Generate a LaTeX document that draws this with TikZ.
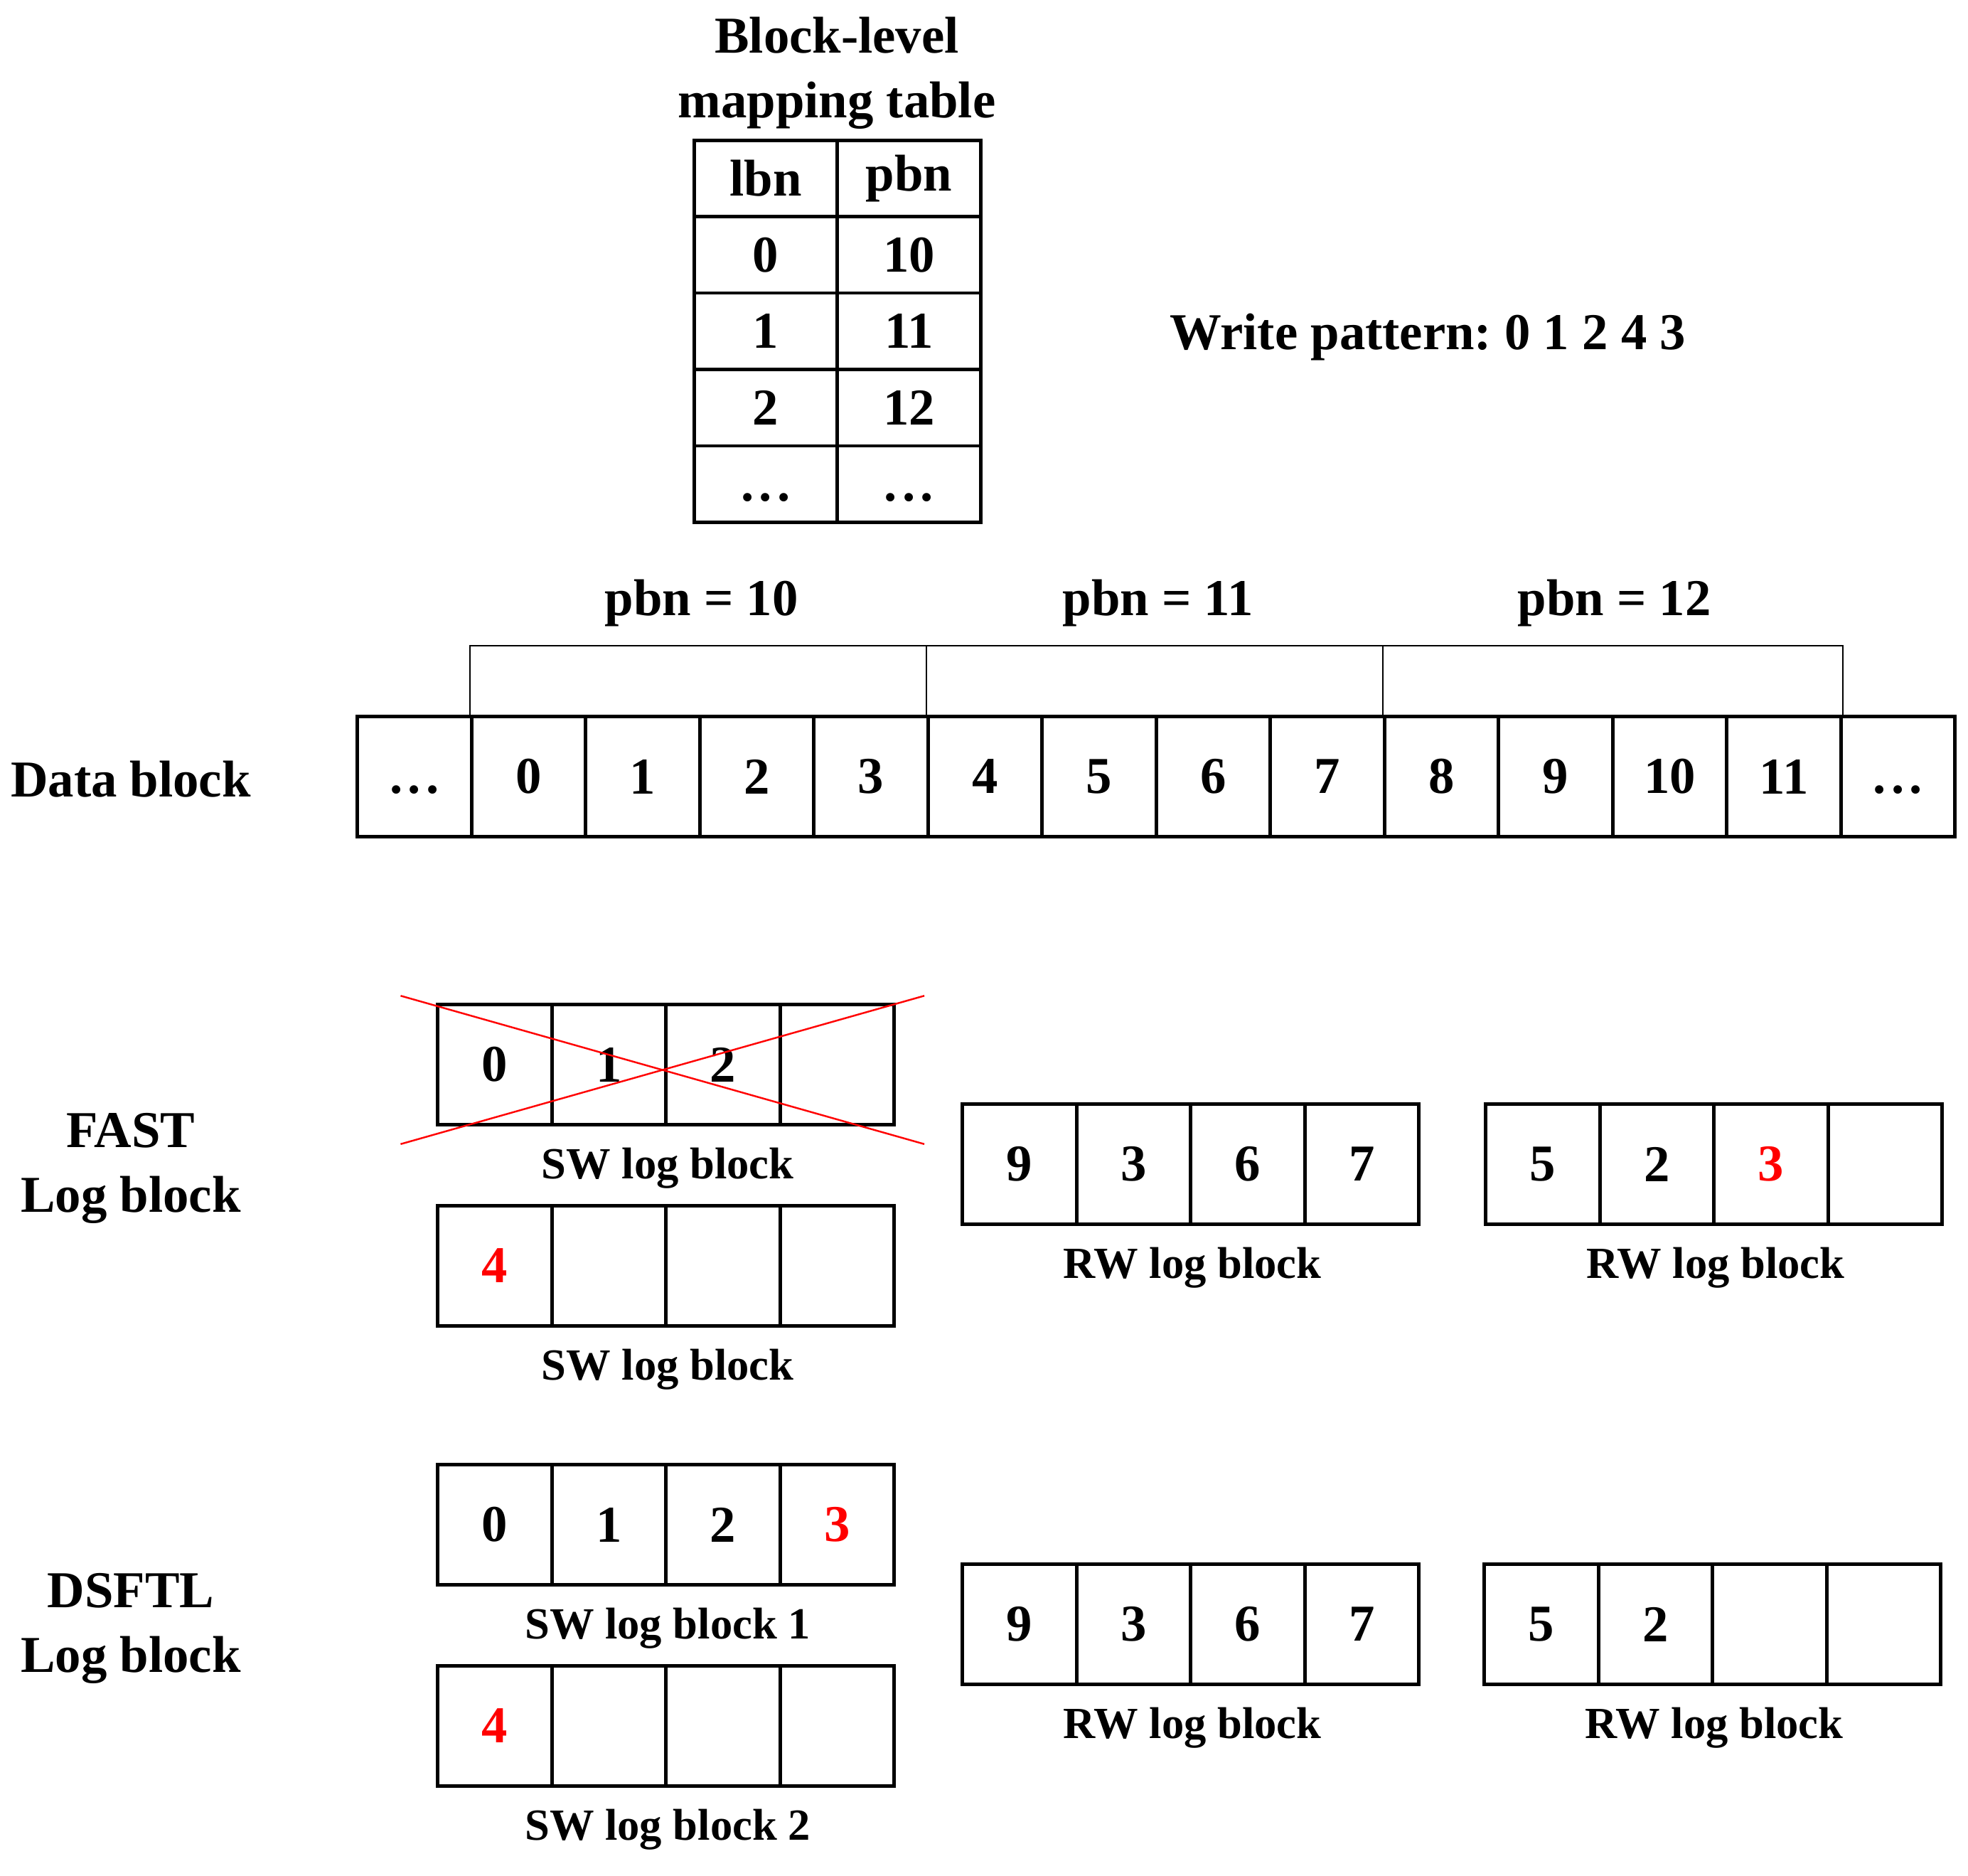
\documentclass[tikz,border=0pt]{standalone}
\usepackage{fontspec}
\setmainfont{Liberation Serif}
\definecolor{hotred}{RGB}{255, 0, 0}
\newcommand{\threedots}{\vphantom{0}.\kern0.1em.\kern0.1em.}
\usetikzlibrary{positioning, calc}

\begin{document}
\begin{tikzpicture}[
  big/.style={font=\fontsize{20.7}{26}\selectfont\bfseries, align=center},
  small/.style={font=\fontsize{17.8}{21}\selectfont\bfseries},
  cell/.style={draw, line width=1.3pt, minimum width=1.605cm, minimum height=1.69cm, inner sep=0pt, font=\fontsize{20.7}{25}\selectfont\bfseries},
  tcell/.style={draw, line width=1.3pt, minimum width=2.015cm, minimum height=1.074cm, inner sep=0pt, font=\fontsize{20.7}{25}\selectfont\bfseries},
  bracket/.style={line width=0.6pt},
  cross/.style={hotred, line width=0.7pt}
]
  \useasboundingbox (0,0) rectangle (27.68,-26.37);

  % Mapping table
  \node[big] (title) at (11.77, -1.03) {Block-level\\mapping table};
  \foreach \l/\p [count=\r from 0] in {lbn/pbn, 0/10, 1/11, 2/12, \threedots/\threedots} {
    \node[tcell] (tl\r) at (10.77, -2.51-\r*1.074) {\l};
    \node[tcell] (tp\r) at (12.785, -2.51-\r*1.074) {\p};
  }

  \node[big] (pattern) at (20.08, -4.74) {Write pattern:\ 0 1 2 4 3};

  % Data block
  \node[big] (dlabel) at (1.84, -10.96) {Data block};
  \foreach \v [count=\i from 0] in {\threedots,0,1,2,3,4,5,6,7,8,9,10,11,\threedots}
    \node[cell] (d\i) at (5.83+\i*1.605, -10.92) {\v};

  % pbn brackets
  \draw[bracket] (d1.north west) -- ++(0,0.97) coordinate (b0) -- (b0 -| d12.north east) -- (d12.north east);
  \draw[bracket] (d5.north west) -- (d5.north west |- b0);
  \draw[bracket] (d9.north west) -- (d9.north west |- b0);
  \node[big] (pbn10) at ($(d2.north east)+(0,1.57)$) {pbn = 10};
  \node[big] (pbn11) at ($(d6.north east)+(0,1.57)$) {pbn = 11};
  \node[big] (pbn12) at ($(d10.north east)+(0,1.57)$) {pbn = 12};

  % FAST
  \node[big] (fast) at (1.84, -16.43) {FAST\\Log block};
  \foreach \v [count=\i from 0] in {0,1,2,{}}
    \node[cell] (fs\i) at (6.96+\i*1.605, -14.97) {\v};
  \draw[cross] ($(fs0.north west)+(-0.5,0.1)$) -- ($(fs3.south east)+(0.4,-0.25)$);
  \draw[cross] ($(fs0.south west)+(-0.5,-0.25)$) -- ($(fs3.north east)+(0.4,0.1)$);
  \node[small, below=0.18cm of fs1.south east] (fslbl) {SW log block};

  \foreach \v [count=\i from 0] in {\textcolor{hotred}{4},{},{},{}}
    \node[cell] (ft\i) at (6.96+\i*1.605, -17.80) {\v};
  \node[small, below=0.18cm of ft1.south east] (ftlbl) {SW log block};

  \foreach \v [count=\i from 0] in {9,3,6,7}
    \node[cell] (fr\i) at (14.34+\i*1.605, -16.37) {\v};
  \node[small, below=0.18cm of fr1.south east] (frlbl) {RW log block};

  \foreach \v [count=\i from 0] in {5,2,\textcolor{hotred}{3},{}}
    \node[cell] (fq\i) at (21.70+\i*1.605, -16.37) {\v};
  \node[small, below=0.18cm of fq1.south east] (fqlbl) {RW log block};

  % DSFTL
  \node[big] (dsftl) at (1.84, -22.90) {DSFTL\\Log block};
  \foreach \v [count=\i from 0] in {0,1,2,\textcolor{hotred}{3}}
    \node[cell] (ds\i) at (6.96+\i*1.605, -21.44) {\v};
  \node[small, below=0.18cm of ds1.south east] (dslbl) {SW log block 1};

  \foreach \v [count=\i from 0] in {\textcolor{hotred}{4},{},{},{}}
    \node[cell] (dt\i) at (6.96+\i*1.605, -24.27) {\v};
  \node[small, below=0.18cm of dt1.south east] (dtlbl) {SW log block 2};

  \foreach \v [count=\i from 0] in {9,3,6,7}
    \node[cell] (dr\i) at (14.34+\i*1.605, -22.84) {\v};
  \node[small, below=0.18cm of dr1.south east] (drlbl) {RW log block};

  \foreach \v [count=\i from 0] in {5,2,{},{}}
    \node[cell] (dq\i) at (21.68+\i*1.605, -22.84) {\v};
  \node[small, below=0.18cm of dq1.south east] (dqlbl) {RW log block};
\end{tikzpicture}
\end{document}
